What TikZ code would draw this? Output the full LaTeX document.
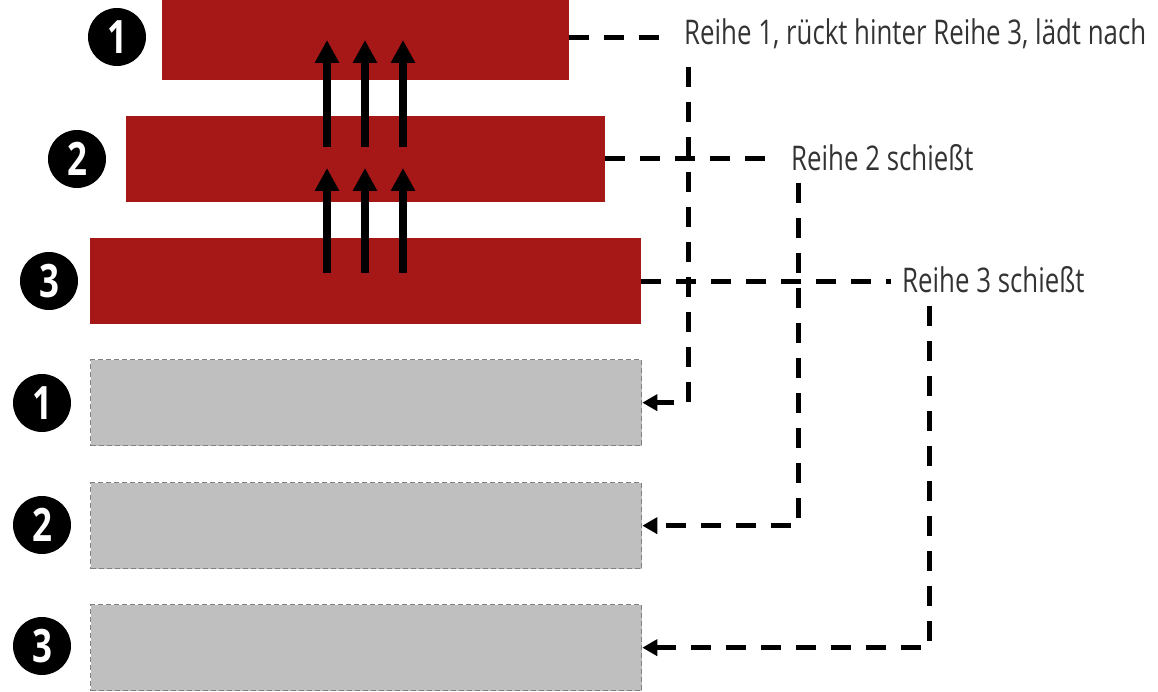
\documentclass[tikz,border=0pt]{standalone}
\usepackage{fontspec}
\setmainfont{Open Sans}[FakeStretch=0.76]
\usetikzlibrary{arrows.meta,calc}
\definecolor{rowred}{RGB}{165,24,23}
\definecolor{rowgray}{RGB}{191,191,191}
\definecolor{rowedge}{RGB}{128,128,128}
\begin{document}
\begin{tikzpicture}[x=1pt,y=-1pt,
  redrow/.style={fill=rowred, draw=none, anchor=north west, inner sep=0pt, minimum height=86pt},
  grayrow/.style={fill=rowgray, draw=rowedge, dash pattern=on 5pt off 3pt, line width=1.3pt,
    anchor=north west, inner sep=0pt, minimum height=86pt, minimum width=551pt},
  badge/.style={circle, fill=black, text=white, inner sep=0pt, minimum size=58pt,
    font=\bfseries\fontsize{46}{46}\selectfont},
  rowlabel/.style={anchor=base west, inner sep=0pt, text=black!80,
    font=\fontsize{34}{34}\selectfont},
  dashconn/.style={dash pattern=on 20pt off 15pt, line width=5pt},
  uparrow/.style={line width=8pt, -{Triangle[length=23pt,width=23pt]}},
  backarrow/.style={dashconn, -{Triangle[length=15pt,width=16pt]}}
]
\useasboundingbox (0,0) rectangle (1158,692);

% red rows
\node[redrow, minimum width=407pt, minimum height=80pt] (r1) at (162,0) {};
\node[redrow, minimum width=479pt] (r2) at (126,116) {};
\node[redrow, minimum width=551pt] (r3) at (90,238) {};

% gray rows
\node[grayrow] (g1) at (90,359) {};
\node[grayrow] (g2) at (90,482) {};
\node[grayrow] (g3) at (90,604) {};

% badges
\node[badge] (b1) at (117,37) {1};
\node[badge] (b2) at (77,159) {2};
\node[badge] (b3) at (49,281) {3};
\node[badge] (b4) at (42,403) {1};
\node[badge] (b5) at (42,525) {2};
\node[badge] (b6) at (42,646) {3};

% up arrows
\foreach \x [count=\i] in {327,365,403}{
  \coordinate (ua\i) at (\x,147);
  \coordinate (ub\i) at (\x,40);
  \coordinate (uc\i) at (\x,273);
  \coordinate (ud\i) at (\x,168);
  \draw[uparrow] (ua\i) -- (ub\i);
  \draw[uparrow] (uc\i) -- (ud\i);
}

% labels
\node[rowlabel] (t1) at (684,45) {Reihe 1, rückt hinter Reihe 3, lädt nach};
\node[rowlabel] (t2) at (791,171) {Reihe 2 schießt};
\node[rowlabel] (t3) at (902,293) {Reihe 3 schießt};

% horizontal dashed leaders
\coordinate (h1) at (666,38);
\coordinate (h2) at (776,159);
\coordinate (h3) at (891,282);
\draw[dashconn] (r1.east |- h1) -- (h1);
\draw[dashconn] (r2.east |- h2) -- (h2);
\draw[dashconn] (r3.east |- h3) -- (h3);

% vertical dashed returns
\coordinate (v1) at (688,67);
\coordinate (v2) at (798,183);
\coordinate (v3) at (929,306);
\draw[backarrow] (v1) |- (g1.east);
\draw[backarrow] (v2) |- (g2.east);
\draw[backarrow] (v3) |- (g3.east);
\end{tikzpicture}
\end{document}
